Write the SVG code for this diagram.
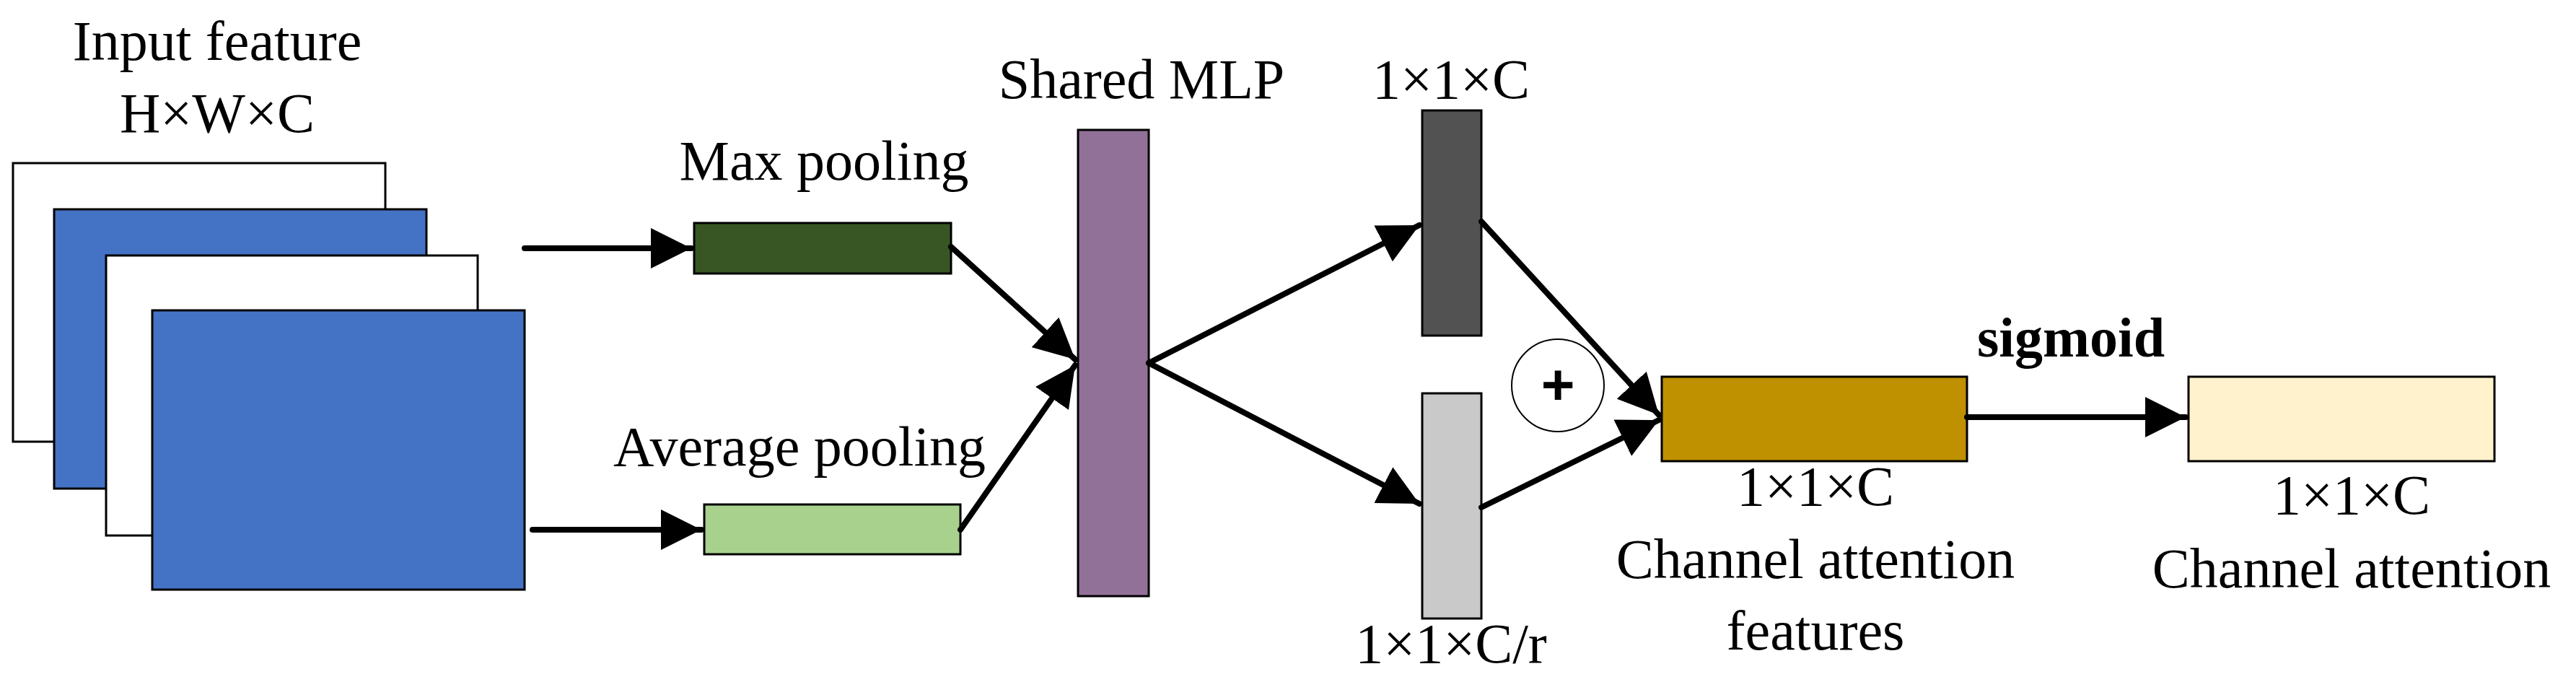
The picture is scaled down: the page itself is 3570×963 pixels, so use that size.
<svg xmlns="http://www.w3.org/2000/svg" width="3570" height="963" viewBox="0 0 3570 963">
<style>
text{font-family:"Liberation Serif","Times New Roman",serif;font-size:78px;fill:#000;text-anchor:middle}
.r{stroke:#000;stroke-width:3}
.c{stroke:#000;stroke-width:8;fill:none;stroke-linecap:round}
</style>
<defs><marker id="a" viewBox="0 0 10 10" refX="10" refY="5" markerWidth="7" markerHeight="7" markerUnits="strokeWidth" orient="auto"><path d="M0,0L10,5L0,10z" fill="#000"/></marker></defs>
<g id="input">
<rect class="r" x="18" y="226" width="516" height="386" fill="#fff"/>
<rect class="r" x="75" y="290" width="516" height="387" fill="#4472C4"/>
<rect class="r" x="147" y="354" width="515" height="388" fill="#fff"/>
<rect class="r" x="211" y="430" width="516" height="387" fill="#4472C4"/>
<text x="301" y="83">Input feature</text>
<text x="301" y="183">H×W×C</text>
</g>
<g id="maxpool"><rect class="r" x="962" y="309" width="356" height="70" fill="#375623"/><text x="1142" y="249">Max pooling</text></g>
<g id="avgpool"><rect class="r" x="976" y="699" width="355" height="69" fill="#A9D18E"/><text x="1108" y="645">Average pooling</text></g>
<g id="mlp"><rect class="r" x="1494" y="180" width="98" height="646" fill="#927198"/><text x="1582" y="136">Shared MLP</text></g>
<g id="fc1"><rect class="r" x="1971" y="153" width="82" height="312" fill="#525252"/><text x="2011" y="136">1×1×C</text></g>
<g id="fc2"><rect class="r" x="1971" y="545" width="82" height="312" fill="#C9C9C9"/><text x="2011" y="918">1×1×C/r</text></g>
<g id="add"><circle cx="2159" cy="534" r="64" fill="#fff" stroke="#000" stroke-width="2"/><text x="2159" y="560" style="font-family:'Liberation Sans',Arial,sans-serif;font-weight:bold;font-size:80px">+</text></g>
<g id="caf"><rect class="r" x="2303" y="522" width="423" height="117" fill="#BF9000"/><text x="2516" y="700">1×1×C</text><text x="2516" y="801">Channel attention</text><text x="2516" y="900">features</text></g>
<g id="ca"><rect class="r" x="3033" y="522" width="424" height="117" fill="#FFF2CC"/><text x="3259" y="712">1×1×C</text><text x="3259" y="814">Channel attention</text></g>
<text x="2870" y="494" style="font-weight:bold">sigmoid</text>
<g id="connectors">
<line class="c" x1="727" y1="344" x2="958" y2="344" marker-end="url(#a)"/>
<line class="c" x1="738" y1="734" x2="972" y2="734" marker-end="url(#a)"/>
<line class="c" x1="1318" y1="342" x2="1490" y2="498" marker-end="url(#a)"/>
<line class="c" x1="1331" y1="734" x2="1490" y2="506" marker-end="url(#a)"/>
<line class="c" x1="1592" y1="503" x2="1967" y2="312" marker-end="url(#a)"/>
<line class="c" x1="1592" y1="503" x2="1967" y2="698" marker-end="url(#a)"/>
<line class="c" x1="2053" y1="307" x2="2299" y2="575" marker-end="url(#a)"/>
<line class="c" x1="2053" y1="703" x2="2299" y2="582" marker-end="url(#a)"/>
<line class="c" x1="2726" y1="578" x2="3029" y2="578" marker-end="url(#a)"/>
</g>
</svg>
